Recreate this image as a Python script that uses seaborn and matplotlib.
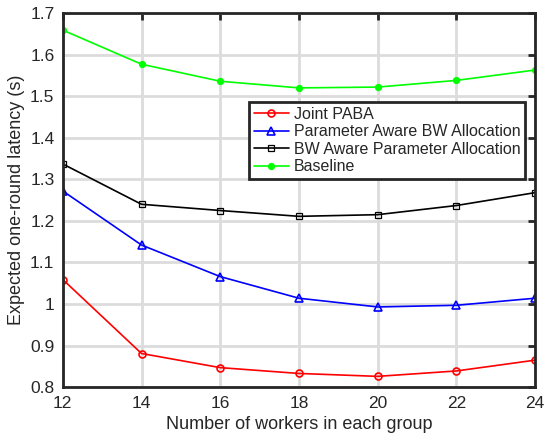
import pandas as pd
import numpy as np
import seaborn as sns
import matplotlib.pyplot as plt

# Data
workers = [12, 14, 16, 18, 20, 22, 24]
joint_paba = [1.059, 0.881, 0.847, 0.833, 0.826, 0.839, 0.865]
param_aware_bw = [1.272, 1.142, 1.066, 1.014, 0.993, 0.997, 1.014]
bw_aware_param = [1.337, 1.240, 1.225, 1.211, 1.215, 1.237, 1.268]
baseline = [1.659, 1.577, 1.536, 1.520, 1.522, 1.538, 1.563]

series_names = ["Joint PABA", "Parameter Aware BW Allocation",
                "BW Aware Parameter Allocation", "Baseline"]
colors = ["#ff0000", "#0000ff", "#000000", "#00ff00"]
markers = ["o", "^", "s", "o"]
sizes = [5, 6, 4, 4]
edge_widths = [1.2, 1.2, 0.9, 1.2]

df = pd.DataFrame({
    "workers": workers * 4,
    "latency": joint_paba + param_aware_bw + bw_aware_param + baseline,
    "method": sum([[n] * len(workers) for n in series_names], []),
})

sns.set_style("whitegrid")
plt.rcParams["font.family"] = ["Liberation Sans", "DejaVu Sans"]

fig = plt.figure(figsize=(5.46, 4.36), dpi=100)
ax = fig.add_axes([0.115, 0.112, 0.865, 0.858])

for name, c, m, ms, mew in zip(series_names, colors, markers, sizes, edge_widths):
    sub = df[df["method"] == name]
    filled = name == "Baseline"
    sns.lineplot(data=sub, x="workers", y="latency", ax=ax, color=c,
                 marker=m, markersize=ms, linewidth=1.2, label=name,
                 markerfacecolor=c if filled else "none",
                 markeredgecolor=c, markeredgewidth=mew)

ax.set_xlim(12, 24)
ax.set_ylim(0.8, 1.7)
ax.set_xticks(workers)
ax.set_yticks(np.arange(0.8, 1.71, 0.1))
ax.set_yticklabels(["0.8", "0.9", "1", "1.1", "1.2", "1.3", "1.4", "1.5", "1.6", "1.7"])
ax.grid(True, color="#dcdcdc", linewidth=2)
for s in ax.spines.values():
    s.set_visible(True)
    s.set_color("#262626")
    s.set_linewidth(2)
ax.tick_params(direction="in", length=5, width=2, color="#262626",
               top=True, right=True, labelsize=12.5, pad=6)
ax.set_xlabel("Number of workers in each group", fontsize=13)
ax.set_ylabel("Expected one-round latency (s)", fontsize=13)

leg = ax.legend(loc="upper right", bbox_to_anchor=(0.979, 0.762), fontsize=11.5,
                frameon=True, fancybox=False, framealpha=1, borderpad=0.3,
                labelspacing=0.15, handlelength=2.2, handletextpad=0.3,
                borderaxespad=0)
leg.get_frame().set_edgecolor("#262626")
leg.get_frame().set_linewidth(2)

plt.savefig("out.png", dpi=100)
